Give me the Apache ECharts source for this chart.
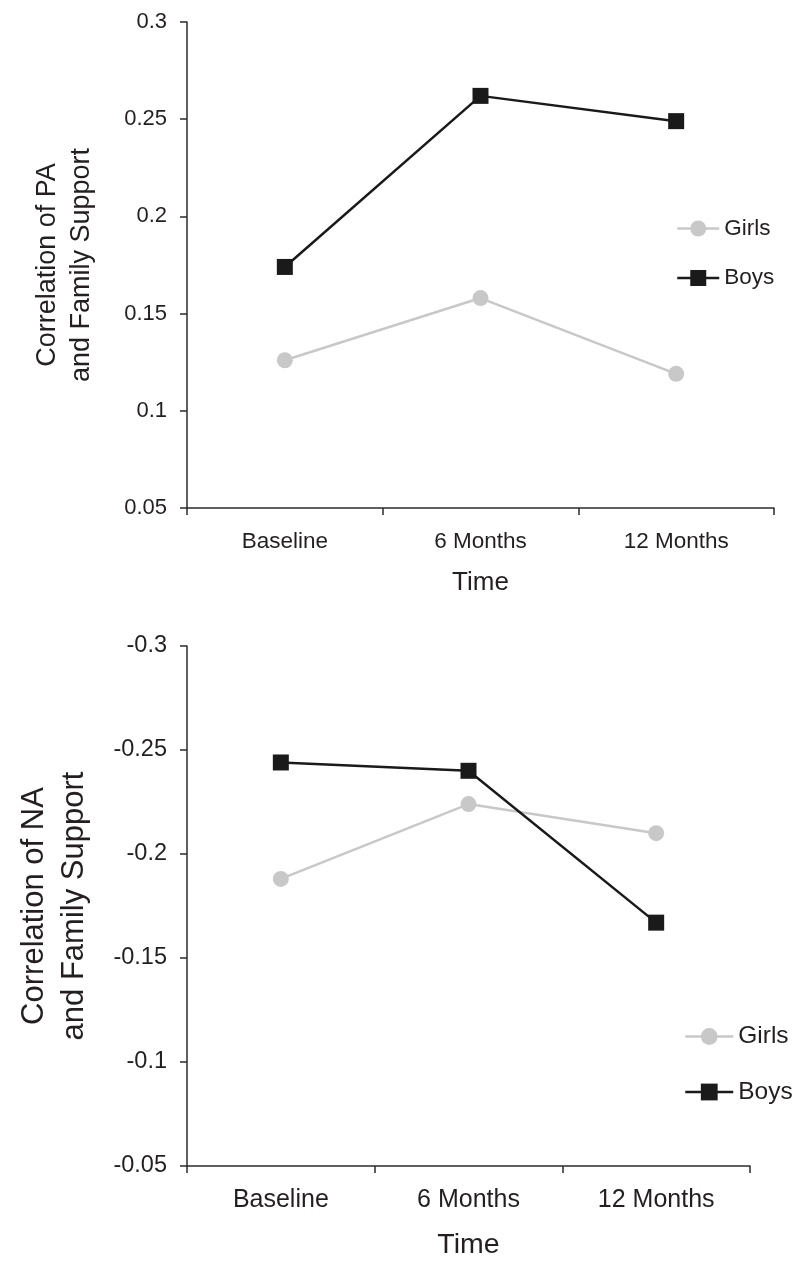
<!DOCTYPE html>
<html>
<head>
<meta charset="utf-8">
<script src="https://cdn.jsdelivr.net/npm/echarts@6/dist/echarts.min.js"></script>
<style>
html,body{margin:0;padding:0;background:#fff;}
#chart{width:800px;height:1270px;}
</style>
</head>
<body>
<div id="chart"></div>
<script>
const categories = ['Baseline', '6 Months', '12 Months'];
const seriesNames = ['Girls', 'Boys'];
const paGirls = [0.126, 0.158, 0.119];
const paBoys = [0.174, 0.262, 0.249];
const naGirls = [-0.188, -0.224, -0.210];
const naBoys = [-0.244, -0.240, -0.167];
const paTicks = ['0.05', '0.1', '0.15', '0.2', '0.25', '0.3'];
const naTicks = ['-0.3', '-0.25', '-0.2', '-0.15', '-0.1', '-0.05'];
const xTitle = 'Time';
const paTitle = 'Correlation of PA\nand Family Support';
const naTitle = 'Correlation of NA\nand Family Support';

const FONT = '"Liberation Sans", Arial, Helvetica, sans-serif';
const TXT = '#231f20';
const AX = '#2b2b2b';
const GIRL = '#c8c8c8';
const BOY = '#1a1a1a';

function tickFmt(list, min) {
  return function (v) {
    const i = Math.round((v - min) / 0.05);
    return list[i] !== undefined ? list[i] : '';
  };
}

function xAxisCfg(gi, labelSize, nameSize, nameGap, margin) {
  return {
    type: 'category', gridIndex: gi, data: categories, boundaryGap: true,
    axisLine: { show: true, lineStyle: { color: AX, width: 1.5 } },
    axisTick: { show: true, length: 7, lineStyle: { color: AX, width: 1.5 } },
    axisLabel: { color: TXT, fontSize: labelSize, fontFamily: FONT, margin: margin },
    splitLine: { show: false },
    name: xTitle, nameLocation: 'middle', nameGap: nameGap,
    nameTextStyle: { color: TXT, fontSize: nameSize, fontFamily: FONT }
  };
}

function yAxisCfg(gi, min, max, inverse, ticks, labelSize, name, nameSize, nameGap, lh) {
  return {
    type: 'value', gridIndex: gi, min: min, max: max, interval: 0.05, inverse: inverse,
    axisLine: { show: true, lineStyle: { color: AX, width: 1.5 } },
    axisTick: { show: true, length: 7, lineStyle: { color: AX, width: 1.5 } },
    axisLabel: { color: TXT, fontSize: labelSize, fontFamily: FONT, margin: 20,
      formatter: tickFmt(ticks, min) },
    splitLine: { show: false },
    name: name, nameLocation: 'middle', nameGap: nameGap, nameRotate: 90,
    nameTextStyle: { color: TXT, fontSize: nameSize, fontFamily: FONT, lineHeight: lh, align: 'center' }
  };
}

function lineSeries(name, data, xi, yi, color, symbol) {
  return {
    name: name, type: 'line', xAxisIndex: xi, yAxisIndex: yi, data: data,
    symbol: symbol, symbolSize: 16, showSymbol: true,
    lineStyle: { color: color, width: 2.5 },
    itemStyle: { color: color, borderWidth: 0 },
    emphasis: { disabled: true },
    animation: false, z: name === 'Boys' ? 3 : 2
  };
}

const chart = echarts.init(document.getElementById('chart'), null, { renderer: 'canvas' });
chart.setOption({
  backgroundColor: '#fff',
  animation: false,
  grid: [
    { left: 187, top: 22, width: 587, height: 486, containLabel: false },
    { left: 187, top: 646, width: 563, height: 520, containLabel: false }
  ],
  xAxis: [
    xAxisCfg(0, 22.5, 26, 62, 22),
    xAxisCfg(1, 25, 28.5, 65, 22)
  ],
  yAxis: [
    yAxisCfg(0, 0.05, 0.3, false, paTicks, 22, paTitle, 27, 88, 34),
    yAxisCfg(1, -0.3, -0.05, true, naTicks, 23.5, naTitle, 31, 93, 40)
  ],
  legend: [
    { orient: 'vertical', left: 671, top: 212, itemWidth: 42, itemHeight: 20, itemGap: 26.5,
      data: seriesNames, selectedMode: false,
      lineStyle: { width: 2.5 },
      textStyle: { color: TXT, fontSize: 22.5, fontFamily: FONT } },
    { orient: 'vertical', left: 679, top: 1019, itemWidth: 48, itemHeight: 21, itemGap: 30.5,
      data: seriesNames, selectedMode: false,
      lineStyle: { width: 2.5 },
      textStyle: { color: TXT, fontSize: 24.5, fontFamily: FONT } }
  ],
  series: [
    lineSeries('Girls', paGirls, 0, 0, GIRL, 'circle'),
    lineSeries('Boys', paBoys, 0, 0, BOY, 'rect'),
    lineSeries('Girls', naGirls, 1, 1, GIRL, 'circle'),
    lineSeries('Boys', naBoys, 1, 1, BOY, 'rect')
  ]
});
</script>
</body>
</html>
